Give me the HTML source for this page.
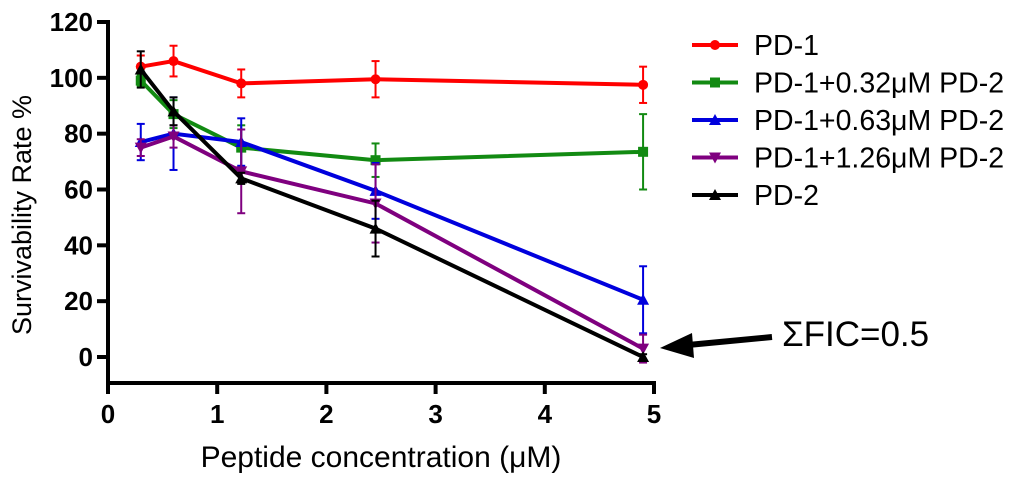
<!DOCTYPE html>
<html><head><meta charset="utf-8"><style>
html,body{margin:0;padding:0;background:#fff}
svg{display:block;font-family:"Liberation Sans",sans-serif}
</style></head><body>
<svg id="chart" width="1024" height="479" viewBox="0 0 1024 479">
<g id="axes"></g><g id="series"></g><g id="legend"></g>
<g>
<line x1="772" y1="337" x2="688" y2="345" stroke="#000" stroke-width="6"/>
<polygon points="660,348 692,333 694,358" fill="#000"/>
<text x="782" y="346" font-size="35" fill="#000">ΣFIC=0.5</text>
</g>
</svg>
<script>
const xVals=[0.3,0.6,1.22,2.45,4.9];
const seriesNames=["PD-1","PD-1+0.32μM PD-2","PD-1+0.63μM PD-2","PD-1+1.26μM PD-2","PD-2"];
const pd1=[104,106,98,99.5,97.5];
const pd1Err=[4,5.5,5,6.5,6.5];
const mix032=[99,87,75,70.5,73.5];
const mix032Err=[2,5,8,6,13.5];
const mix063=[77,80,77,59.5,20.5];
const mix063Err=[6.5,13,8.5,10,12];
const mix126=[75,79,66.5,55,3];
const mix126Err=[3,4,15,14,5];
const pd2=[103,88,64,46,0];
const pd2Err=[6.5,5,2,10,1];
const xTicks=[0,1,2,3,4,5];
const yTicks=[0,20,40,60,80,100,120];

const NS="http://www.w3.org/2000/svg";
const X=v=>108+v*(654-108)/5;
const Y=v=>357-v*(357-22)/120;
function mk(tag,attrs,parent){const e=document.createElementNS(NS,tag);for(const k in attrs)e.setAttribute(k,attrs[k]);parent.appendChild(e);return e;}
const axes=document.getElementById('axes');
let a=mk('line',{x1:108,y1:20,x2:108,y2:385,stroke:'#000','stroke-width':4},axes);


a=mk('line',{x1:106,y1:383,x2:656,y2:383,stroke:'#000','stroke-width':4},axes);


yTicks.forEach(t=>{mk('line',{x1:97,y1:Y(t),x2:108,y2:Y(t),stroke:'#000','stroke-width':4},axes);
 const tx=mk('text',{x:93,y:Y(t)+9,'font-size':26,'font-weight':'bold','text-anchor':'end',fill:'#000'},axes);tx.textContent=t;
 
 });
xTicks.forEach(t=>{mk('line',{x1:X(t),y1:383,x2:X(t),y2:394,stroke:'#000','stroke-width':4},axes);
 const tx=mk('text',{x:X(t),y:423,'font-size':26,'font-weight':'bold','text-anchor':'middle',fill:'#000'},axes);tx.textContent=t;
 
 });
let t=mk('text',{x:381,y:467,'font-size':30,'text-anchor':'middle',fill:'#000'},axes);t.textContent='Peptide concentration (μM)';


t=mk('text',{x:0,y:0,'font-size':27,'text-anchor':'middle',fill:'#000',transform:'translate(31,215) rotate(-90)'},axes);t.textContent='Survivability Rate %';



const data=[pd1,mix032,mix063,mix126,pd2];
const errs=[pd1Err,mix032Err,mix063Err,mix126Err,pd2Err];
const colors=['#ff0000','#128a12','#0000dd','#7f007f','#000000'];
const markers=['circle','square','tri','tridown','tri'];
function marker(m,cx,cy,c,p){
 if(m==='circle')return mk('circle',{cx,cy,r:5,fill:c},p);
 if(m==='square')return mk('rect',{x:cx-5,y:cy-5,width:10,height:10,fill:c},p);
 if(m==='tri')return mk('polygon',{points:`${cx},${cy-6} ${cx-6},${cy+5} ${cx+6},${cy+5}`,fill:c},p);
 return mk('polygon',{points:`${cx},${cy+6} ${cx-6},${cy-5} ${cx+6},${cy-5}`,fill:c},p);
}
const sg=document.getElementById('series');
data.forEach((vals,i)=>{
 const g=mk('g',{},sg);
 
 
 vals.forEach((v,j)=>{const x=X(xVals[j]),e=errs[i][j];
  mk('line',{x1:x,y1:Y(v+e),x2:x,y2:Y(v-e),stroke:colors[i],'stroke-width':2},g);
  mk('line',{x1:x-4,y1:Y(v+e),x2:x+4,y2:Y(v+e),stroke:colors[i],'stroke-width':2},g);
  mk('line',{x1:x-4,y1:Y(v-e),x2:x+4,y2:Y(v-e),stroke:colors[i],'stroke-width':2},g);});
 const l=mk('polyline',{points:vals.map((v,j)=>X(xVals[j])+','+Y(v)).join(' '),fill:'none',stroke:colors[i],'stroke-width':4},g);
 
 
 vals.forEach((v,j)=>{const mm=marker(markers[i],X(xVals[j]),Y(v),colors[i],g);
  
  });
});
const lg=document.getElementById('legend');
seriesNames.forEach((n,i)=>{
 const y=45+i*37.5;
 const g=mk('g',{},lg);
 
 
 mk('line',{x1:692,y1:y,x2:738,y2:y,stroke:colors[i],'stroke-width':4},g);
 marker(markers[i],715,y,colors[i],g);
 const tx=mk('text',{x:754,y:y+10,'font-size':28.5,fill:'#000'},g);tx.textContent=n;
});
</script>
</body></html>
